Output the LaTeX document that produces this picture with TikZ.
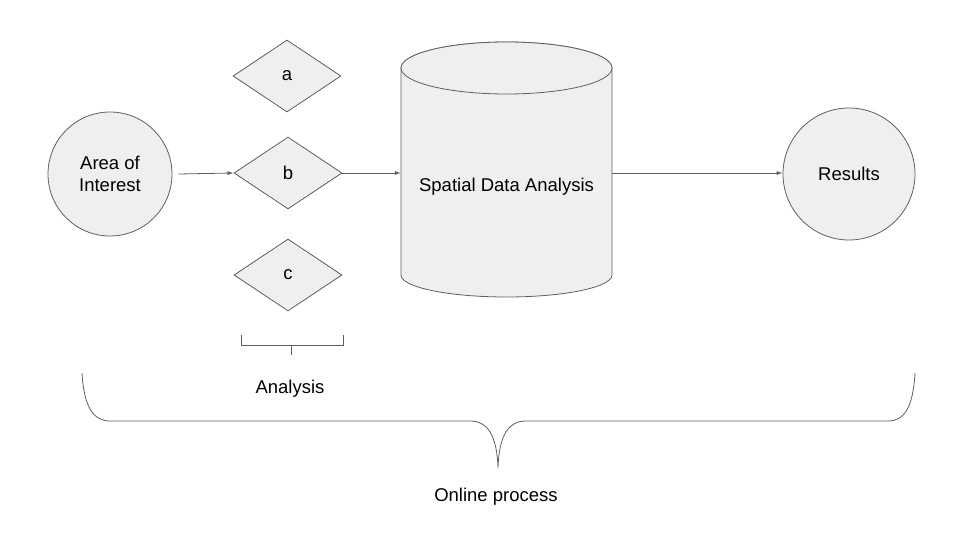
\documentclass[tikz,border=0pt]{standalone}
\usepackage{fontspec}
\setmainfont{Liberation Sans}
\usetikzlibrary{arrows.meta,shapes.geometric}
\definecolor{shapefill}{HTML}{EFEFEF}
\definecolor{lineclr}{HTML}{5F5F5F}
\tikzset{
  box/.style={draw=lineclr, fill=shapefill, line width=0.8pt},
  ball/.style={box, circle, align=center},
  choice/.style={box, diamond, minimum width=108, minimum height=72, inner sep=0pt},
  flow/.style={draw=lineclr, line width=0.8pt, -{Latex[length=6pt,width=4pt]}},
  mark line/.style={draw=lineclr, line width=0.8pt},
}
\begin{document}
\begin{tikzpicture}[x=1pt, y=-1pt, every node/.style={font=\fontsize{18.5}{21.5}\selectfont}]
			\useasboundingbox (0,0) rectangle (960,540);
			%%%%% START %%%%%
			\node[ball, minimum size=124] (aoi) at (110, 174) {Area of\\Interest};
			
			\node[choice] (a) at (287, 76) {a};
			\node[choice] (b) at (288, 173) {b};
			\node[choice] (c) at (288, 275) {c};
			
			% cylinder
			\filldraw[box] (401, 68) -- (401, 275) arc (180:0:105.5 and 22) -- (612, 68) arc (0:-180:105.5 and 26) -- cycle;
			\draw[box] (506.5, 68) ellipse (105.5 and 26);
			\node[minimum width=211, minimum height=200, inner sep=0pt] (sda) at (506.5, 173) {};
			\node (sdalabel) at (506.5, 187) {Spatial Data Analysis};
			
			\node[ball, minimum size=132] (res) at (849, 174) {Results};
			
			\draw[flow] (aoi.east) ++(6,0) coordinate (aoiout) -- (b.west);
			\draw[flow] (b.east) -- (sda.west);
			\draw[flow] (sda.east) -- (sda.east -| res.west);
			
			% analysis bracket
			\draw[mark line] (241, 335) -- (241, 345) -- (343, 345) -- (343, 335);
			\draw[mark line] (291, 345) -- (291, 355);
			\node (analysis) at (290, 389) {Analysis};
			
			% online process brace
			\draw[mark line] (82, 373) .. controls (84, 408) and (94, 421) .. (110, 421) -- (470, 421)
			  .. controls (488, 421) and (497, 436) .. (498, 468)
			  .. controls (499, 436) and (508, 421) .. (526, 421) -- (888, 421)
			  .. controls (904, 421) and (913, 408) .. (915, 373);
			\node (online) at (496, 497) {Online process};
			%%%%% END %%%%%
\end{tikzpicture}
\end{document}
